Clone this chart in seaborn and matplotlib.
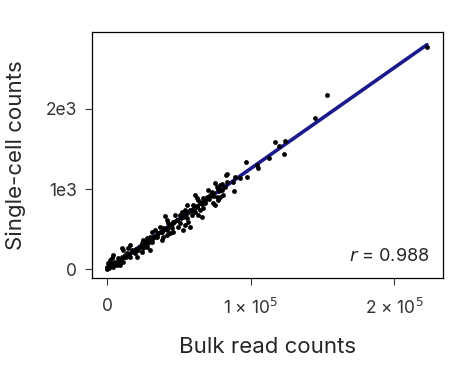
import numpy as np
import pandas as pd
import seaborn as sns
import matplotlib.pyplot as plt

bulk = [222800, 153500, 144500, 117100, 124000, 120100, 123100, 112900, 104300, 105000,
        96600, 97300, 88500, 82700, 83900, 89200, 87600, 92700,
        75270, 76430, 77590, 78750, 79910, 74100, 72940, 71780, 70620, 69460,
        76430, 74100, 75270, 77590, 78750, 81070, 79910, 82230, 83400,
        61330, 62490, 63650, 64810, 65970, 67130, 68300, 67130, 64810, 62490,
        61330, 60170, 57840, 59000, 63650, 65970,
        55520, 54360, 52040, 50870, 53200, 55520, 56680, 57840, 54360, 50870,
        48550, 49710, 53200, 47390, 46230,
        40420, 41580, 42740, 43900, 45070, 41580, 39260, 38100, 36940, 35770,
        39260, 41580, 43900, 46230, 38100, 34610, 33450,
        31130, 29970, 27640, 26480, 25320, 24160, 28810, 31130, 32290, 23000,
        21840, 25320, 27640, 29970, 24160,
        16030, 14870, 17190, 18350, 19510, 13710, 11380, 12540, 10220, 16030,
        20670, 9060, 11380, 7900, 10220,
        4410, 3250, 2090, 930, 0, 230, 3250, 5580, 6740, 4410, 1630, 7900, 9060,
        2500, 5000, 6000, 8500, 12000, 14000, 15500, 18000, 20000, 22500,
        26000, 28000, 30500, 33000, 35000, 37500, 40000, 42000, 44500, 47000,
        49000, 51500, 54000, 56000, 58500, 60500, 63000, 66000, 68500, 71000,
        73500, 78000, 1200, 3800, 9800, 13000, 19000, 24800, 32000, 45500]
single_cell = [2772, 2170, 1888, 1589, 1598, 1539, 1440, 1386, 1303, 1257,
               1340, 1154, 975, 1170, 1187, 1154, 1091, 1133,
               1079, 1029, 996, 1050, 987, 946, 967, 925, 987, 904,
               904, 822, 801, 863, 904, 925, 1070, 1029, 1091,
               925, 884, 863, 822, 842, 884, 822, 759, 739, 780,
               718, 801, 739, 676, 676, 656,
               801, 739, 718, 676, 656, 635, 593, 531, 552, 573,
               614, 531, 490, 676, 593,
               664, 614, 573, 552, 510, 490, 510, 469, 531, 448,
               407, 427, 448, 469, 365, 407, 490,
               469, 407, 386, 344, 365, 324, 324, 344, 386, 282,
               241, 261, 282, 241, 220,
               303, 261, 241, 220, 199, 199, 241, 178, 158, 158,
               158, 116, 95, 137, 261,
               178, 137, 116, 75, 33, 0, 75, 95, 54, 33, 25, 75, 54,
               40, 70, 85, 110, 150, 170, 195, 225, 250, 280,
               320, 350, 380, 410, 430, 465, 500, 520, 555, 585,
               610, 640, 670, 700, 730, 755, 790, 820, 850, 880,
               915, 975, 15, 50, 125, 160, 235, 305, 400, 565]

df = pd.DataFrame({"bulk": bulk, "sc": single_cell})

sns.set_style("ticks")
plt.rcParams["font.family"] = ["Inter", "DejaVu Sans"]

fig = plt.figure(figsize=(4.67, 3.65), dpi=100)
ax = fig.add_axes([0.197, 0.238, 0.752, 0.674])

sns.regplot(data=df, x="bulk", y="sc", ax=ax, ci=None,
            scatter_kws={"s": 12, "color": "black", "alpha": 1, "linewidths": 0, "zorder": 3},
            line_kws={"color": "#1a1a8c", "linewidth": 2.6, "zorder": 2})

ax.set_xlim(-10450, 234100)
ax.set_ylim(-108, 2955)
ax.set_xticks([0, 100000, 200000])
ax.set_xticklabels(["0", r"1 × 10$^5$", r"2 × 10$^5$"])
ax.set_yticks([0, 1000, 2000])
ax.set_yticklabels(["0", "1e3", "2e3"])
ax.tick_params(labelsize=12.5, colors="#333333", length=5, width=0.8)
ax.tick_params(axis="x", pad=9)
ax.tick_params(axis="y", pad=6)
for s in ax.spines.values():
    s.set_linewidth(0.9)
    s.set_color("black")

ax.set_xlabel("Bulk read counts", fontsize=16, labelpad=14)
ax.set_ylabel("Single-cell counts", fontsize=16, labelpad=14)

ax.text(0.96, 0.055, r"$\it{r}$ = 0.988", transform=ax.transAxes,
        ha="right", va="bottom", fontsize=13)

fig.savefig("out.png", dpi=100)
